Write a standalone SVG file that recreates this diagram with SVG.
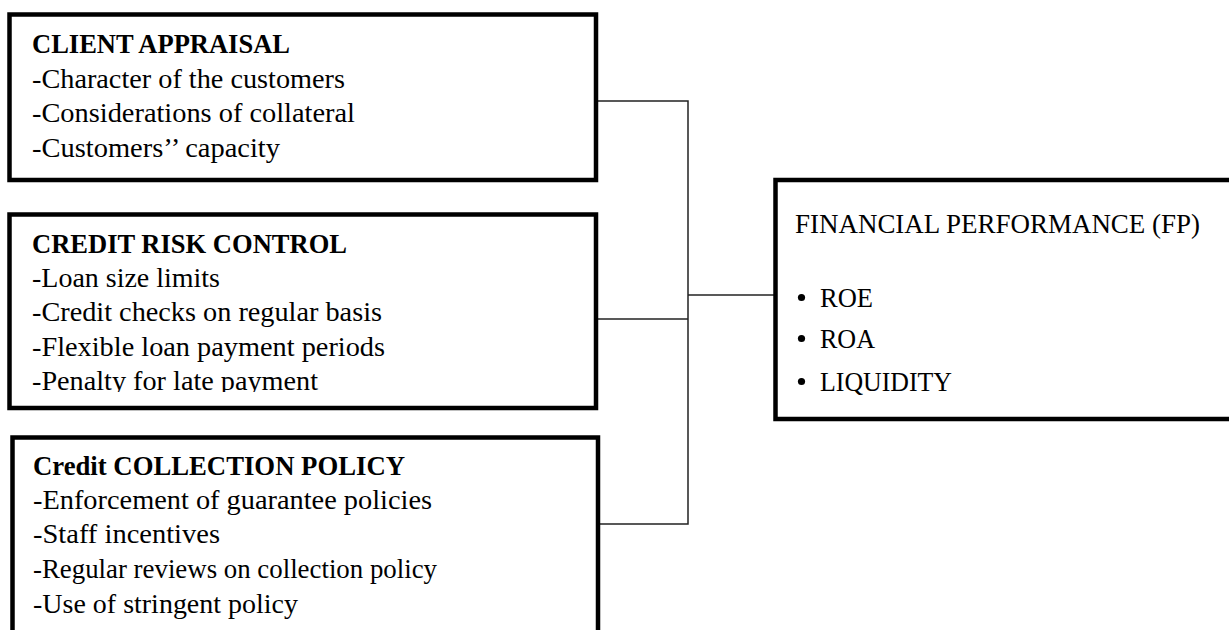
<svg xmlns="http://www.w3.org/2000/svg" width="1229" height="630" viewBox="0 0 1229 630">
<style>
  .box { fill: #ffffff; stroke: #000000; stroke-width: 4.5; }
  .conn { fill: none; stroke: #222222; stroke-width: 1.5; }
  text { font-family: "Liberation Serif", "Times New Roman", serif; font-size: 28px; fill: #000000; }
  .b { font-weight: bold; }
</style>
<defs>
  <clipPath id="clip2"><rect x="0" y="210" width="600" height="182"/></clipPath>
</defs>
<rect x="0" y="0" width="1229" height="630" fill="#ffffff"/>

<g id="connectors">
  <polyline class="conn" points="598,101 688,101 688,524 600,524"/>
  <line class="conn" x1="598" y1="319" x2="688" y2="319"/>
  <line class="conn" x1="688" y1="295" x2="780" y2="295"/>
</g>

<g id="client-appraisal">
  <rect class="box" x="9.5" y="14.5" width="586.5" height="165.5"/>
  <text class="b" x="32" y="53" textLength="258" lengthAdjust="spacingAndGlyphs">CLIENT APPRAISAL</text>
  <text x="32" y="88" textLength="313" lengthAdjust="spacingAndGlyphs">-Character of the customers</text>
  <text x="32" y="122" textLength="323" lengthAdjust="spacingAndGlyphs">-Considerations of collateral</text>
  <text x="32" y="157" textLength="248" lengthAdjust="spacingAndGlyphs">-Customers’’ capacity</text>
</g>

<g id="credit-risk-control">
  <rect class="box" x="9.5" y="214.5" width="586.5" height="193.5"/>
  <g clip-path="url(#clip2)">
    <text class="b" x="32" y="253" textLength="315" lengthAdjust="spacingAndGlyphs">CREDIT RISK CONTROL</text>
    <text x="32" y="287" textLength="188" lengthAdjust="spacingAndGlyphs">-Loan size limits</text>
    <text x="32" y="321" textLength="350" lengthAdjust="spacingAndGlyphs">-Credit checks on regular basis</text>
    <text x="32" y="356" textLength="353" lengthAdjust="spacingAndGlyphs">-Flexible loan payment periods</text>
    <text x="32" y="390" textLength="286" lengthAdjust="spacingAndGlyphs">-Penalty for late payment</text>
  </g>
</g>

<g id="credit-collection-policy">
  <rect class="box" x="12.5" y="437.5" width="585.5" height="200"/>
  <text class="b" x="33" y="475" textLength="372" lengthAdjust="spacingAndGlyphs">Credit COLLECTION POLICY</text>
  <text x="33" y="509" textLength="399" lengthAdjust="spacingAndGlyphs">-Enforcement of guarantee policies</text>
  <text x="33" y="543" textLength="187" lengthAdjust="spacingAndGlyphs">-Staff incentives</text>
  <text x="33" y="578" textLength="404" lengthAdjust="spacingAndGlyphs">-Regular reviews on collection policy</text>
  <text x="33" y="613" textLength="265" lengthAdjust="spacingAndGlyphs">-Use of stringent policy</text>
</g>

<g id="financial-performance">
  <rect class="box" x="775.5" y="180" width="470" height="239"/>
  <text x="795" y="233" textLength="405" lengthAdjust="spacingAndGlyphs">FINANCIAL PERFORMANCE (FP)</text>
  <circle cx="801.5" cy="297.5" r="3.6" fill="#000000"/>
  <text x="820" y="307" textLength="53" lengthAdjust="spacingAndGlyphs">ROE</text>
  <circle cx="801.5" cy="338.5" r="3.6" fill="#000000"/>
  <text x="820" y="348" textLength="55" lengthAdjust="spacingAndGlyphs">ROA</text>
  <circle cx="801.5" cy="381.5" r="3.6" fill="#000000"/>
  <text x="820" y="391" textLength="132" lengthAdjust="spacingAndGlyphs">LIQUIDITY</text>
</g>
</svg>
